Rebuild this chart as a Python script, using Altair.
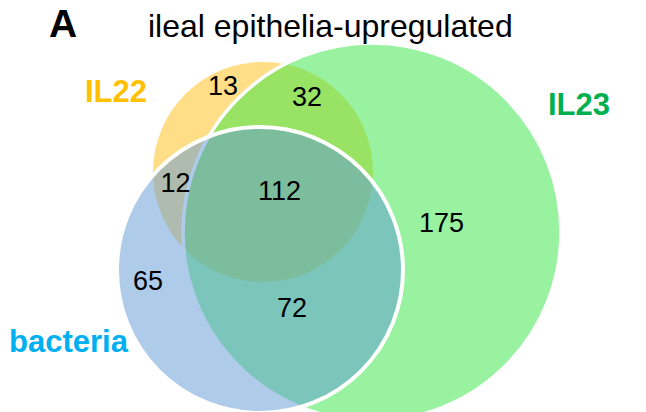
import altair as alt
import pandas as pd

# ---- chart content ----
panel_letter = "A"
title_text = "ileal epithelia-upregulated"
set_names = ["IL22", "IL23", "bacteria"]
region_labels = ["13", "32", "12", "112", "175", "65", "72"]

# ---- layout (pixel coordinates of the page) ----
circle_cx = [263, 372, 260]
circle_cy = [172, 232, 270]
circle_r = [110, 189, 143]
count_x = [223, 307, 175.5, 279.5, 441.5, 148, 292]
count_y = [95, 106, 192, 200, 232, 290, 317]
name_x = [116, 579, 68.5]
name_y = [102, 115, 352]

# ---- styles ----
fill_colors = ["#FFBD0F", "#32E641", "#5D97D5"]
fill_opac = [0.5, 0.5, 0.5]
stroke_w = [0, 3.5, 4]
label_colors = ["#FFC000", "#00B050", "#00B0F0"]
FONT = "Liberation Sans"

xs = alt.Scale(domain=[8, 638], nice=False, zero=False)
ys = alt.Scale(domain=[8, 412], nice=False, zero=False, reverse=True)

layers = []
for i, name in enumerate(set_names):
    d = pd.DataFrame({"x": [circle_cx[i]], "y": [circle_cy[i]],
                      "size": [4 * circle_r[i] ** 2], "name": [name]})
    layers.append(
        alt.Chart(d).mark_point(
            filled=True, shape="circle", fill=fill_colors[i], opacity=1,
            fillOpacity=fill_opac[i], stroke="white", strokeOpacity=1,
            strokeWidth=stroke_w[i]
        ).encode(
            x=alt.X("x:Q", scale=xs, axis=None),
            y=alt.Y("y:Q", scale=ys, axis=None),
            size=alt.Size("size:Q", scale=None, legend=None),
        )
    )

counts_df = pd.DataFrame({"x": count_x, "y": count_y, "label": region_labels})
layers.append(
    alt.Chart(counts_df).mark_text(
        font=FONT, fontSize=27, color="black", align="center", baseline="alphabetic"
    ).encode(x=alt.X("x:Q", scale=xs, axis=None), y=alt.Y("y:Q", scale=ys, axis=None),
             text="label:N")
)

names_df = pd.DataFrame({"x": name_x, "y": name_y, "name": set_names})
layers.append(
    alt.Chart(names_df).mark_text(
        font=FONT, fontSize=31, fontWeight="bold", align="center", baseline="alphabetic"
    ).encode(
        x=alt.X("x:Q", scale=xs, axis=None), y=alt.Y("y:Q", scale=ys, axis=None),
        text="name:N",
        color=alt.Color("name:N", scale=alt.Scale(domain=set_names, range=label_colors),
                        legend=None),
    )
)

letter_df = pd.DataFrame({"x": [63], "y": [37], "t": [panel_letter]})
layers.append(
    alt.Chart(letter_df).mark_text(
        font=FONT, fontSize=39, fontWeight="bold", color="black", align="center",
        baseline="alphabetic"
    ).encode(x=alt.X("x:Q", scale=xs, axis=None), y=alt.Y("y:Q", scale=ys, axis=None),
             text="t:N")
)

title_df = pd.DataFrame({"x": [148], "y": [37], "t": [title_text]})
layers.append(
    alt.Chart(title_df).mark_text(
        font=FONT, fontSize=32, color="black", align="left", baseline="alphabetic"
    ).encode(x=alt.X("x:Q", scale=xs, axis=None), y=alt.Y("y:Q", scale=ys, axis=None),
             text="t:N")
)

chart = alt.layer(*layers).properties(
    width=630, height=404, padding=0, autosize=alt.AutoSizeParams(type="none"),
    background="white"
).configure_view(stroke=None)

chart.save("out.html", embed_options={"renderer": "svg", "actions": False})
